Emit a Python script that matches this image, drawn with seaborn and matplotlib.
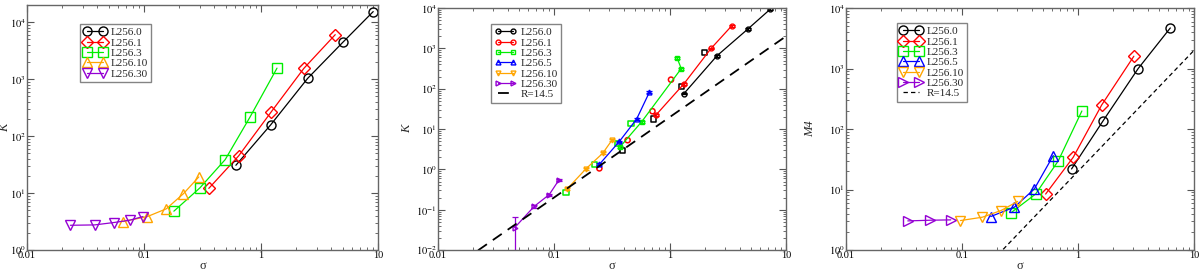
import numpy as np
import pandas as pd
import matplotlib
matplotlib.use('Agg')
import matplotlib.pyplot as plt
import matplotlib.ticker as mticker
import seaborn as sns

sns.set_style('ticks')
plt.rcParams['font.family'] = ['Liberation Serif', 'DejaVu Serif']
plt.rcParams['mathtext.fontset'] = 'stix'

# colours (xmgrace palette)
colors = {'L256.0': 'black', 'L256.1': '#ff0000', 'L256.3': '#00ee00',
          'L256.5': '#0000ff', 'L256.10': '#ffa500', 'L256.30': '#9400d3'}

# ---- panel 1 : K vs sigma ----
p1_labels = ['L256.0', 'L256.1', 'L256.3', 'L256.10', 'L256.30']
p1_markers = ['o', 'D', 's', '^', 'v']
p1_x = [[0.61, 1.21, 2.5, 5.0, 9.1],
        [0.358, 0.644, 1.22, 2.32, 4.31],
        [0.18, 0.30, 0.494, 0.805, 1.37],
        [0.066, 0.107, 0.155, 0.217, 0.294],
        [0.0235, 0.0378, 0.0553, 0.0754, 0.098]]
p1_y = [[30.8, 158, 1030, 4440, 15400],
        [12.1, 45, 265, 1543, 6060],
        [4.81, 12.3, 38.7, 216, 1564],
        [3.16, 3.87, 5.29, 9.73, 19.2],
        [2.72, 2.76, 3.04, 3.34, 3.87]]

# ---- panel 2 : K vs sigma with error bars ----
p2_labels = ['L256.0', 'L256.1', 'L256.3', 'L256.5', 'L256.10', 'L256.30']
p2_markers = ['o', 'o', 's', '^', 'v', '>']
p2_x = [[1.32, 2.54, 4.7, 7.33],
        [0.758, 1.32, 2.26, 3.42],
        [0.371, 0.570, 1.25, 1.15],
        [0.246, 0.366, 0.516, 0.665],
        [0.13, 0.189, 0.263, 0.316],
        [0.0459, 0.0675, 0.091, 0.110]]
p2_y = [[76, 656, 3043, 9440],
        [22.4, 133, 1000, 3685],
        [3.62, 15.2, 316, 584],
        [1.33, 4.92, 17.8, 82.6],
        [0.329, 1.04, 2.51, 5.31],
        [0.0361, 0.121, 0.237, 0.541]]
p2_err = [[4, 30, 150, 450],
          [1.2, 7, 50, 190],
          [0.2, 0.8, 16, 30],
          [0.07, 0.25, 0.9, 4],
          [0.02, 0.05, 0.12, 0.27],
          [0.030, 0.012, 0.012, 0.03]]
# unconnected open points (second estimate)
p2_open_labels = ['L256.0', 'L256.1', 'L256.3']
p2_open_markers = ['s', 'o', 's']
p2_open_x = [[0.391, 0.72, 1.26, 1.97],
             [0.246, 0.431, 0.706, 1.02],
             [0.127, 0.223, 0.352, 0.461]]
p2_open_y = [[2.99, 17.8, 116, 810],
             [1.06, 5.3, 27.7, 168],
             [0.271, 1.33, 4.47, 13.9]]

# ---- panel 3 : M4 vs sigma ----
p3_labels = ['L256.0', 'L256.1', 'L256.3', 'L256.5', 'L256.10', 'L256.30']
p3_markers = ['o', 'D', 's', '^', 'v', '>']
p3_x = [[0.88, 1.65, 3.3, 6.25],
        [0.526, 0.91, 1.6, 3.03],
        [0.266, 0.431, 0.676, 1.08],
        [0.177, 0.283, 0.42, 0.612],
        [0.097, 0.15, 0.217, 0.302],
        [0.0341, 0.0535, 0.080]]
p3_y = [[21.9, 138, 1000, 4700],
        [8.42, 34.2, 250, 1600],
        [4.17, 8.42, 29.8, 199],
        [3.58, 5.12, 10.2, 36.5],
        [3.07, 3.49, 4.5, 6.36],
        [3.03, 3.11, 3.15]]

# reference line R=14.5 : ~20*sigma^2
ref_sigma = [0.01, 10]
ref_coef = 20.0

fig = plt.figure(figsize=(12, 2.7), dpi=100)
ax1 = fig.add_axes([0.0225, 0.074, 0.2925, 0.907])
ax2 = fig.add_axes([0.365, 0.074, 0.29, 0.896])
ax3 = fig.add_axes([0.705, 0.074, 0.29, 0.896])


def style_axis(ax, ylo, yhi, ylabel, ylab_x):
    ax.set_xscale('log')
    ax.set_yscale('log')
    ax.set_xlim(0.01, 10)
    ax.set_ylim(ylo, yhi)
    ax.xaxis.set_major_locator(mticker.LogLocator(base=10))
    ax.xaxis.set_major_formatter(mticker.FuncFormatter(lambda v, p: '%g' % v))
    ax.yaxis.set_major_locator(mticker.LogLocator(base=10))
    ax.yaxis.set_major_formatter(mticker.FuncFormatter(
        lambda v, p: r'$10^{%d}$' % int(round(np.log10(v)))))
    ax.xaxis.set_minor_locator(mticker.LogLocator(base=10, subs=np.arange(2, 10)))
    ax.yaxis.set_minor_locator(mticker.LogLocator(base=10, subs=np.arange(2, 10)))
    ax.yaxis.set_minor_formatter(mticker.NullFormatter())
    ax.xaxis.set_minor_formatter(mticker.NullFormatter())
    ax.tick_params(which='both', direction='in', top=True, right=True,
                   colors='#555555', labelcolor='black', labelsize=7.5, pad=1)
    ax.tick_params(which='major', length=5, width=0.8)
    ax.tick_params(which='minor', length=2.5, width=0.6)
    for s in ax.spines.values():
        s.set_color('#666666')
        s.set_linewidth(1.0)
    ax.set_xlabel('σ', fontsize=9, labelpad=0)
    ax.set_ylabel(ylabel, fontsize=9, style='italic')
    ax.yaxis.set_label_coords(ylab_x, 0.5)


def draw_series(ax, labels, markers, xs, ys, ms, lw=0.9):
    for lab, mk, x, y in zip(labels, markers, xs, ys):
        df = pd.DataFrame({'sigma': x, 'val': y})
        sns.lineplot(data=df, x='sigma', y='val', ax=ax, sort=False,
                     estimator=None, color=colors[lab], lw=lw, label=lab,
                     marker=mk, markersize=ms, markerfacecolor='none',
                     markeredgecolor=colors[lab], markeredgewidth=1.0)


# panel 1
draw_series(ax1, p1_labels, p1_markers, p1_x, p1_y, ms=6.5)
style_axis(ax1, 1, 2e4, 'K', -0.045)

# panel 2
for lab, mk, x, y, e in zip(p2_labels, p2_markers, p2_x, p2_y, p2_err):
    ax2.errorbar(x, y, yerr=e, fmt='none', ecolor=colors[lab], elinewidth=0.9,
                 capsize=2.5, capthick=0.9)
draw_series(ax2, p2_labels, p2_markers, p2_x, p2_y, ms=3.5)
for lab, mk, x, y in zip(p2_open_labels, p2_open_markers, p2_open_x, p2_open_y):
    df = pd.DataFrame({'sigma': x, 'val': y})
    sns.scatterplot(data=df, x='sigma', y='val', ax=ax2, marker=mk, s=14,
                    facecolor='none', edgecolor=colors[lab], linewidth=1.1,
                    legend=False)
ref = pd.DataFrame({'sigma': ref_sigma,
                    'val': [ref_coef * s ** 2 for s in ref_sigma]})
sns.lineplot(data=ref, x='sigma', y='val', ax=ax2, color='black', lw=1.3,
             label='R=14.5')
ax2.lines[-1].set_dashes([6, 4])
style_axis(ax2, 1e-2, 1e4, 'K', -0.07)

# panel 3
draw_series(ax3, p3_labels, p3_markers, p3_x, p3_y, ms=6.5)
sns.lineplot(data=ref, x='sigma', y='val', ax=ax3, color='black', lw=0.9,
             label='R=14.5')
ax3.lines[-1].set_dashes([3.5, 2.5])
style_axis(ax3, 1, 1e4, 'M4', -0.085)


def make_legend(ax, anchor):
    leg = ax.legend(loc='upper left', bbox_to_anchor=anchor, numpoints=2,
                    fontsize=8, frameon=True, fancybox=False, handlelength=2.0,
                    handletextpad=0.4, labelspacing=0.05, borderpad=0.3,
                    borderaxespad=0)
    leg.get_frame().set_edgecolor('#666666')
    leg.get_frame().set_linewidth(1.0)


make_legend(ax1, (0.152, 0.922))
make_legend(ax2, (0.152, 0.934))
make_legend(ax3, (0.146, 0.938))

fig.savefig('out.png', dpi=100)
